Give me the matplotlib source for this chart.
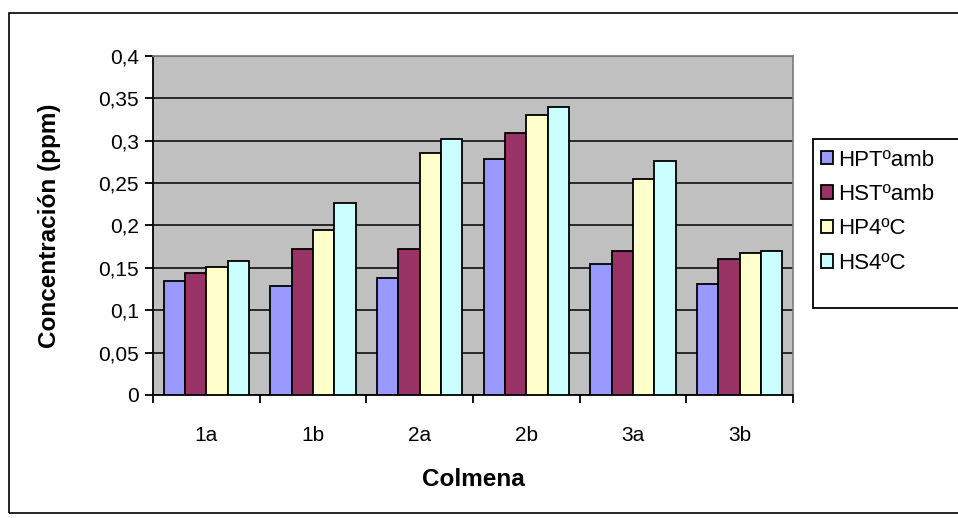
import numpy as np
import matplotlib.pyplot as plt
from matplotlib.patches import Rectangle

plt.rcParams['font.family'] = ['Liberation Sans', 'DejaVu Sans']

# Colmenas y concentraciones medidas (ppm)
colmenas = ['1a', '1b', '2a', '2b', '3a', '3b']
series = ['HPTºamb', 'HSTºamb', 'HP4ºC', 'HS4ºC']
hpt_amb = [0.134, 0.129, 0.138, 0.279, 0.155, 0.131]
hst_amb = [0.144, 0.172, 0.172, 0.309, 0.170, 0.160]
hp_4c = [0.151, 0.195, 0.285, 0.330, 0.255, 0.167]
hs_4c = [0.158, 0.226, 0.302, 0.340, 0.276, 0.170]
valores = [hpt_amb, hst_amb, hp_4c, hs_4c]
colores = ['#9999FF', '#993366', '#FFFFCC', '#CCFFFF']

fig = plt.figure(figsize=(9.58, 5.18), dpi=100)
ax = fig.add_axes([0.1597, 0.2375, 0.668, 0.6544])
ax.set_facecolor('#C0C0C0')

# marco exterior del grafico
fig.patches.append(Rectangle((9 / 958, 1 - 513 / 518), 1.0, (513 - 13) / 518,
                             transform=fig.transFigure, fill=False,
                             edgecolor='black', linewidth=1.2))

x = np.arange(len(colmenas))
w = 0.2
barras = []
for i, (vals, nombre) in enumerate(zip(valores, series)):
    b = ax.bar(x + (i - 1.5) * w, vals, width=w, color=colores[i],
               edgecolor='black', linewidth=1.3, label=nombre, zorder=3)
    barras.append(b)

ax.set_xlim(-0.5, len(colmenas) - 0.5)
ax.set_ylim(0, 0.4)
ax.set_yticks(np.arange(0, 0.401, 0.05))
ax.set_yticklabels(['0'] + [('%g' % v).replace('.', ',') for v in np.arange(0.05, 0.401, 0.05)])
ax.yaxis.grid(True, color='black', linewidth=1.1, zorder=1)
ax.set_axisbelow(True)

ax.set_xticks(x)
ax.set_xticklabels(colmenas)
ax.set_xticks(np.arange(-0.5, len(colmenas)), minor=True)
ax.tick_params(axis='x', which='major', length=0, pad=22, labelsize=15)
ax.tick_params(axis='x', which='minor', length=6, width=1.3, direction='out')
ax.tick_params(axis='y', length=6, width=1.3, direction='out', labelsize=15, pad=4)

for lado in ['top', 'right']:
    ax.spines[lado].set_color('#808080')
    ax.spines[lado].set_linewidth(1.3)
for lado in ['left', 'bottom']:
    ax.spines[lado].set_color('black')
    ax.spines[lado].set_linewidth(1.3)

ax.set_ylabel('Concentración (ppm)', fontsize=17.5, fontweight='bold', labelpad=27)
ax.set_xlabel('Colmena', fontsize=17.5, fontweight='bold', labelpad=17)

# leyenda: marco propio (mas alto que las entradas) y entradas sin marco
marco = Rectangle((813 / 958, 1 - 308 / 518), 0.2, (308 - 139) / 518,
                  transform=fig.transFigure, facecolor='white',
                  edgecolor='black', linewidth=1.3, zorder=1)
fig.patches.append(marco)
leg = fig.legend(barras, series, loc='upper left',
                 bbox_to_anchor=(814 / 958, 1 - 143 / 518),
                 bbox_transform=fig.transFigure, fontsize=16, frameon=False,
                 handlelength=0.55, handleheight=0.55, handletextpad=0.25,
                 labelspacing=0.6, borderpad=0.3, borderaxespad=0)
leg.set_zorder(5)

fig.savefig('out.png', dpi=100)
